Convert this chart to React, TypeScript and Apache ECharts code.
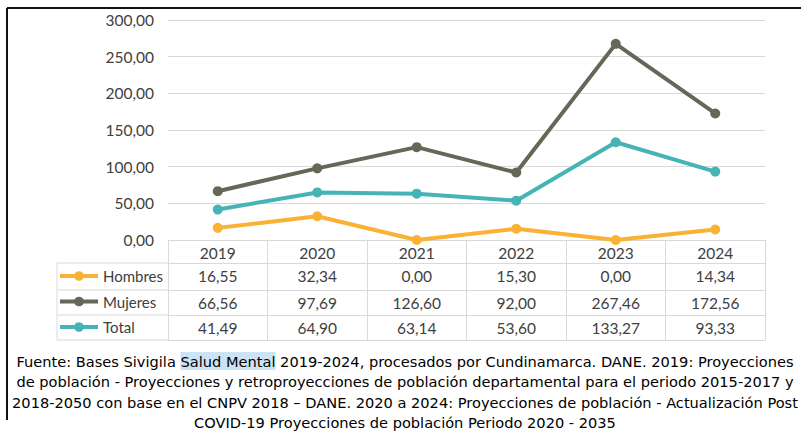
import React, { useEffect, useRef } from "react";
import * as echarts from "echarts";

const years = ["2019", "2020", "2021", "2022", "2023", "2024"];
const hombres = [16.55, 32.34, 0.0, 15.3, 0.0, 14.34];
const mujeres = [66.56, 97.69, 126.6, 92.0, 267.46, 172.56];
const total = [41.49, 64.9, 63.14, 53.6, 133.27, 93.33];
const seriesNames = ["Hombres", "Mujeres", "Total"];
const seriesColors = ["#F9B233", "#646957", "#46B4B6"];
const yTicks = { min: 0, max: 300, interval: 50 };
const captionLines = [
  "de población - Proyecciones y retroproyecciones de población departamental para el periodo 2015-2017 y",
  "2018-2050 con base en el CNPV 2018 – DANE. 2020 a 2024: Proyecciones de población - Actualización Post",
  "COVID-19 Proyecciones de población Periodo 2020 - 2035",
];

const fmt = (v: number) => v.toFixed(2).replace(".", ",");

const FONT = "Lato";
const TXT = "#404040";
const BORDER = "#d9d9d9";

// layout
const GL = 168;
const GR = 765;
const GT = 20;
const GB = 240;
const rowTops = [240, 263, 290, 315, 340];
const LEG_L = 57;
const capY = [361, 381.5, 402, 422];

export default function App() {
  const ref = useRef<HTMLDivElement>(null);
  useEffect(() => {
    const chart = echarts.init(ref.current!, undefined, { renderer: "svg" });
    const rows = [null, hombres, mujeres, total];
    const xAxes: any[] = rows.map((row, i) => ({
      type: "category",
      data: years,
      position: "bottom",
      offset: rowTops[i] - rowTops[0],
      boundaryGap: true,
      axisLine: { show: true, lineStyle: { color: BORDER, width: 1 } },
      axisTick: {
        show: true,
        length: rowTops[i + 1] - rowTops[i],
        lineStyle: { color: BORDER, width: 1 },
      },
      axisLabel: {
        show: true,
        interval: 0,
        margin: 5,
        fontFamily: FONT,
        fontSize: 15.5,
        color: TXT,
        formatter: (v: string, idx: number) => (row ? fmt(row[idx]) : v),
      },
    }));
    xAxes.push({
      type: "category",
      data: years,
      position: "bottom",
      offset: rowTops[4] - rowTops[0],
      axisLine: { show: true, lineStyle: { color: BORDER, width: 1 } },
      axisTick: { show: false },
      axisLabel: { show: false },
    });

    const graphics: any[] = [];
    // legend column borders
    graphics.push({
      type: "line",
      shape: { x1: LEG_L, y1: rowTops[1], x2: LEG_L, y2: rowTops[4] },
      style: { stroke: BORDER, lineWidth: 1 },
    });
    for (let i = 1; i < 5; i++) {
      graphics.push({
        type: "line",
        shape: { x1: LEG_L, y1: rowTops[i], x2: GL, y2: rowTops[i] },
        style: { stroke: BORDER, lineWidth: 1 },
      });
    }
    // outer frame
    graphics.push({
      type: "line",
      shape: { x1: 7, y1: 8, x2: 801, y2: 8 },
      style: { stroke: "#111", lineWidth: 2 },
    });
    graphics.push({
      type: "line",
      shape: { x1: 7, y1: 8, x2: 7, y2: 420 },
      style: { stroke: "#111", lineWidth: 2 },
    });
    // caption
    const capFont = "DejaVu Sans";
    const capSize = 14.6;
    graphics.push({
      type: "text",
      x: 405,
      y: capY[0],
      style: {
        text: "Fuente: Bases Sivigila {h|Salud Mental} 2019-2024, procesados por Cundinamarca. DANE. 2019: Proyecciones",
        align: "center",
        verticalAlign: "middle",
        fontFamily: capFont,
        fontSize: capSize,
        fill: "#000",
        rich: {
          h: {
            backgroundColor: "#CCE3F6",
            fontFamily: capFont,
            fontSize: capSize,
            fill: "#000",
            padding: [2, 0, 1, 0],
          },
        },
      },
    });
    captionLines.forEach((t, i) => {
      graphics.push({
        type: "text",
        x: 405,
        y: capY[i + 1],
        style: {
          text: t,
          align: "center",
          verticalAlign: "middle",
          fontFamily: capFont,
          fontSize: capSize,
          fill: "#000",
        },
      });
    });

    chart.setOption({
      animation: false,
      backgroundColor: "#fff",
      grid: { left: GL, right: 801 - GR, top: GT, bottom: 433 - GB },
      legend: {
        orient: "vertical",
        left: 58,
        top: 268,
        padding: 0,
        itemWidth: 38,
        itemHeight: 12,
        itemGap: 9.5,
        lineStyle: { width: 4 },
        textStyle: { fontFamily: FONT, fontSize: 15, color: TXT, lineHeight: 16 },
        data: seriesNames,
      },
      xAxis: xAxes,
      yAxis: {
        type: "value",
        min: yTicks.min,
        max: yTicks.max,
        interval: yTicks.interval,
        axisLine: { show: false },
        axisTick: { show: false },
        axisLabel: {
          margin: 14,
          fontFamily: FONT,
          fontSize: 15.5,
          color: TXT,
          formatter: (v: number) => fmt(v),
        },
        splitLine: { lineStyle: { color: BORDER, width: 1 } },
      },
      series: [hombres, mujeres, total].map((d, i) => ({
        name: seriesNames[i],
        type: "line",
        data: d,
        xAxisIndex: 0,
        symbol: "circle",
        symbolSize: 10,
        clip: false,
        color: seriesColors[i],
        lineStyle: { width: 4, color: seriesColors[i] },
        itemStyle: { color: seriesColors[i] },
      })),
      graphic: graphics,
    });
    return () => chart.dispose();
  }, []);
  return (
    <div
      ref={ref}
      style={{ position: "fixed", left: 0, top: 0, width: 801, height: 433 }}
    />
  );
}
